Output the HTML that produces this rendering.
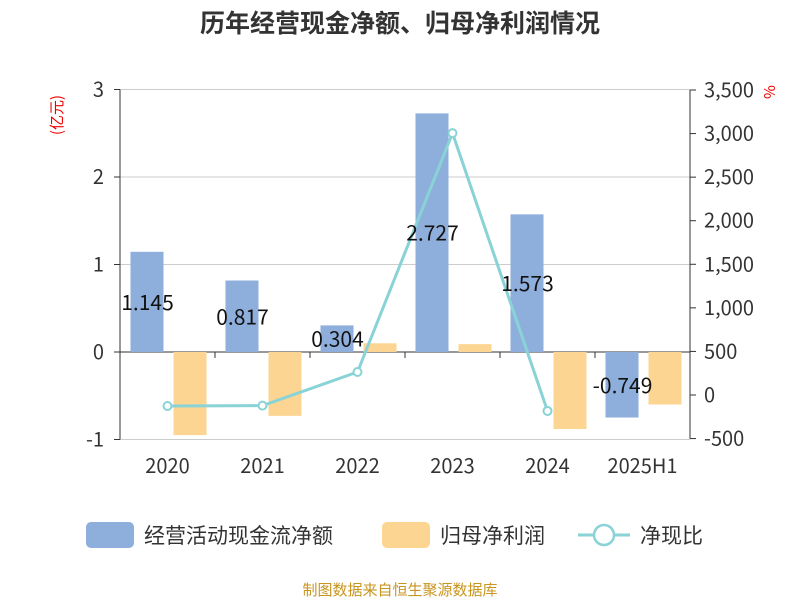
<!DOCTYPE html>
<html><head><meta charset="utf-8">
<style>
body{margin:0;background:#fff;}
svg text{font-family:"Noto Sans CJK SC","Liberation Sans",sans-serif;}
</style></head>
<body>
<svg id="chart" width="800" height="600" xmlns="http://www.w3.org/2000/svg">
<text x="400" y="32" text-anchor="middle" font-size="25" font-weight="bold" fill="#333">历年经营现金净额、归母净利润情况</text>
<text transform="translate(62,115) rotate(-90)" text-anchor="middle" font-size="15" fill="#e00">(亿元)</text>
<text transform="translate(764,92) rotate(90)" text-anchor="middle" font-size="15" fill="#e00">%</text>
<g id="grid"></g><g id="bars"></g><g id="axes"></g><g id="line"></g><g id="labels"></g>
<g>
<rect x="86" y="522" width="48" height="26" rx="5" fill="#8eaedb"/>
<text x="144" y="543" font-size="21" fill="#333">经营活动现金流净额</text>
<rect x="382" y="522" width="48" height="26" rx="5" fill="#fdd593"/>
<text x="440" y="543" font-size="21" fill="#333">归母净利润</text>
<line x1="578" y1="535" x2="630" y2="535" stroke="#89d3d6" stroke-width="3"/>
<circle cx="604" cy="535" r="10" fill="#fff" stroke="#89d3d6" stroke-width="2.5"/>
<text x="640" y="543" font-size="21" fill="#333">净现比</text>
</g>
<text x="400" y="595" text-anchor="middle" font-size="15" fill="#c8951e">制图数据来自恒生聚源数据库</text>
</svg>
<script>
const categories=["2020","2021","2022","2023","2024","2025H1"];
const cashflow=[1.145,0.817,0.304,2.727,1.573,-0.749];
const profit=[-0.95,-0.73,0.1,0.09,-0.88,-0.6];
const ratio=[-126,-122,264,3005,-183,null];
const leftTicks=[-1,0,1,2,3];
const rightTicks=[-500,0,500,1000,1500,2000,2500,3000,3500];
const NS="http://www.w3.org/2000/svg";
const X0=120,X1=690,band=(X1-X0)/categories.length;
const yL=v=>352-v*87.5;
const yR=v=>395-v*(305/3500);
function mk(p,tag,a){const e=document.createElementNS(NS,tag);for(const k in a)e.setAttribute(k,a[k]);document.getElementById(p).appendChild(e);return e;}
leftTicks.forEach(t=>{
 const g=mk("grid","line",{x1:X0,x2:X1,y1:yL(t),y2:yL(t),stroke:t===0?"#333":"#ccc","stroke-width":1});
 
 
 const tx=mk("axes","text",{x:104,y:yL(t)+7,"text-anchor":"end","font-size":20,fill:"#333"});tx.textContent=t;
 
 
 mk("axes","line",{x1:X0-6,x2:X0,y1:yL(t),y2:yL(t),stroke:"#333"});
});
rightTicks.forEach(t=>{
 const tx=mk("axes","text",{x:704,y:yR(t)+7,"font-size":20,fill:"#333"});tx.textContent=t.toLocaleString("en-US");
 
 
 mk("axes","line",{x1:X1,x2:X1+6,y1:yR(t),y2:yR(t),stroke:"#333"});
});
mk("axes","line",{x1:X0,x2:X0,y1:yL(3),y2:yL(-1),stroke:"#333"});
mk("axes","line",{x1:X1,x2:X1,y1:yR(3500),y2:yR(-500),stroke:"#333"});
categories.forEach((c,i)=>{
 const cx=X0+band*(i+0.5);
 const tx=mk("axes","text",{x:cx,y:473,"text-anchor":"middle","font-size":20,fill:"#333"});tx.textContent=c;
 
 
 mk("axes","line",{x1:X0+band*i,x2:X0+band*i,y1:352,y2:358,stroke:"#333"});
 const v=cashflow[i];
 const b=mk("bars","rect",{x:cx-37,y:Math.min(yL(v),yL(0)),width:33,height:Math.abs(yL(v)-yL(0)),fill:"#8eaedb"});
 
 
 const p=profit[i];
 const b2=mk("bars","rect",{x:cx+6,y:Math.min(yL(p),yL(0)),width:33,height:Math.abs(yL(p)-yL(0)),fill:"#fdd593"});
 
 
 const l=mk("labels","text",{x:cx-20,y:(yL(v)+yL(0))/2+8,"text-anchor":"middle","font-size":21,fill:"#111"});l.textContent=v;
 
 
});
const pts=ratio.map((v,i)=>v===null?null:[X0+band*(i+0.5),yR(v)]).filter(p=>p);
const pl=mk("line","polyline",{points:pts.map(p=>p.join(",")).join(" "),fill:"none",stroke:"#89d3d6","stroke-width":3});


pts.forEach(p=>{
 const c=mk("line","circle",{cx:p[0],cy:p[1],r:4,fill:"#fff",stroke:"#89d3d6","stroke-width":2});
 
 
});
</script>
</body></html>
